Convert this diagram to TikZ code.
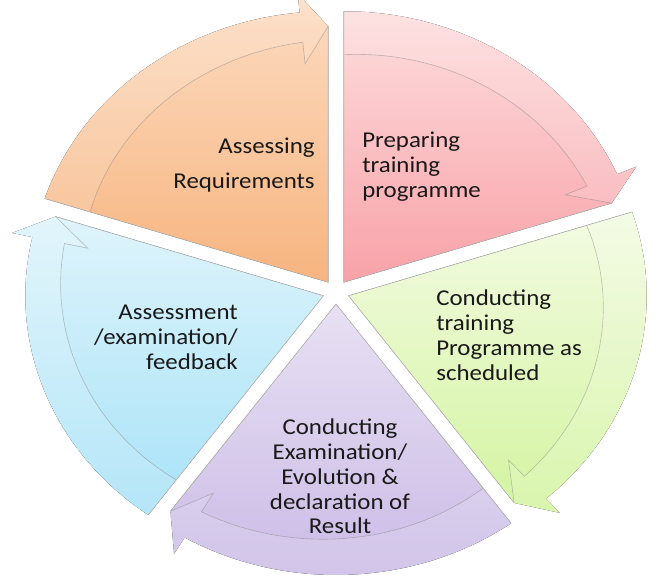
\documentclass[tikz,border=0pt]{standalone}
\usepackage{fontspec}
\setmainfont{Carlito}

\definecolor{orangeTop}{HTML}{FCDCC2}
\definecolor{orangeBot}{HTML}{F7B47F}
\definecolor{pinkTop}{HTML}{FDDDDD}
\definecolor{pinkBot}{HTML}{F8A2A8}
\definecolor{greenTop}{HTML}{F3FBE2}
\definecolor{greenBot}{HTML}{D3F4A0}
\definecolor{purpleTop}{HTML}{E8E0F3}
\definecolor{purpleBot}{HTML}{C9B9E5}
\definecolor{blueTop}{HTML}{DEF4FB}
\definecolor{blueBot}{HTML}{A8E2F8}

\newcommand{\cycleR}{6.775}
% one pie segment with its arrow: #1 start angle, #2 top colour, #3 bottom colour
\newcommand{\cyclesegment}[3]{%
  \begin{scope}[shift={(#1-36:0.3)}]
    \fill[top color=#2, bottom color=#3] (0,0) -- (#1:\cycleR)
      arc[start angle=#1, end angle=#1-66.5, radius=\cycleR]
      -- (#1-66.5:1.07*\cycleR) -- (#1-72:0.945*\cycleR) -- cycle;
    \fill[band] (#1:0.84*\cycleR) -- (#1:\cycleR)
      arc[start angle=#1, end angle=#1-66.5, radius=\cycleR]
      -- (#1-66.5:1.07*\cycleR) -- (#1-72:0.945*\cycleR)
      -- (#1-66.5:0.81*\cycleR) -- (#1-66.5:0.89*\cycleR)
      -- plot[domain=#1-66.5:#1, samples=30] (\x:{\cycleR*(0.84+0.05*(#1-\x)/66.5)}) -- cycle;
    \draw[ridge] plot[domain=#1:#1-66.5, samples=30] (\x:{\cycleR*(0.84+0.05*(#1-\x)/66.5)})
      -- (#1-66.5:0.81*\cycleR) -- (#1-72:0.945*\cycleR);
    \draw[edge] (#1-72:0.945*\cycleR) -- (0,0) -- (#1:\cycleR);
  \end{scope}}

\begin{document}
\begin{tikzpicture}[
    band/.style={white, opacity=0.14},
    ridge/.style={black!50, opacity=0.45, line width=0.45pt},
    edge/.style={black!30, line width=0.4pt},
    steptext/.style={font=\fontsize{16.1}{17.7}\selectfont, text=black!90, inner sep=0pt, transform shape}
]
    \useasboundingbox (-8.4,-7.225) rectangle (8.15,7.3);

    \begin{scope}[xscale=1.1]
    % 1. Five segments, clockwise from the upper left
    \cyclesegment{162}{orangeTop}{orangeBot}
    \cyclesegment{90}{pinkTop}{pinkBot}
    \cyclesegment{18}{greenTop}{greenBot}
    \cyclesegment{-54}{purpleTop}{purpleBot}
    \cyclesegment{-126}{blueTop}{blueBot}

    % 2. Texts
    \node[steptext, anchor=east, align=right] (assess) at (-0.477,3.175) {Assessing\\[7pt]Requirements};
    \node[steptext, anchor=west, align=left] (prepare) at (0.591,3.13) {Preparing\\training\\programme};
    \node[steptext, anchor=west, align=left] (conduct) at (2.273,-1.075) {Conducting\\training\\Programme as\\scheduled};
    \node[steptext, align=center] (exam) at (0.09,-4.61) {Conducting\\Examination/\\Evolution \&\\declaration of\\Result};
    \node[steptext, anchor=east, align=right] (feedback) at (-2.227,-1.125) {Assessment\\/examination/\\feedback};
    \end{scope}

\end{tikzpicture}
\end{document}
